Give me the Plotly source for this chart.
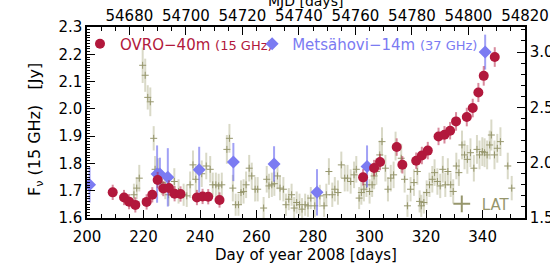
import plotly.graph_objects as go

# ---------------- data ----------------
ovro_day = [209.1, 213.1, 214.9, 217.1, 221.1, 223.1, 225.0, 227.0, 229.0, 231.0, 233.1,
            238.9, 240.9, 242.9, 246.9, 297.7, 301.6, 303.7, 309.6, 311.6, 316.5, 318.5,
            320.6, 324.4, 326.5, 328.5, 330.6, 334.4, 336.5, 338.5, 340.4, 344.3]
ovro_flux = [1.694, 1.675, 1.660, 1.648, 1.659, 1.685, 1.739, 1.708, 1.710, 1.689, 1.688,
             1.675, 1.679, 1.678, 1.666, 1.749, 1.783, 1.805, 1.860, 1.795, 1.810, 1.829,
             1.847, 1.899, 1.905, 1.920, 1.954, 1.970, 2.003, 2.060, 2.121, 2.190]
ovro_err = [0.028, 0.028, 0.028, 0.028, 0.028, 0.028, 0.030, 0.028, 0.028, 0.028, 0.028,
            0.028, 0.028, 0.028, 0.028, 0.030, 0.030, 0.030, 0.032, 0.032, 0.030, 0.032,
            0.032, 0.032, 0.032, 0.032, 0.034, 0.034, 0.034, 0.035, 0.036, 0.036]

mets_day = [200.9, 224.8, 225.8, 228.6, 239.7, 251.8, 266.2, 281.4, 299.1, 340.9]
mets_flux = [1.722, 1.761, 1.761, 1.749, 1.777, 1.805, 1.798, 1.694, 1.789, 2.208]
mets_err = [0.065, 0.105, 0.060, 0.107, 0.084, 0.070, 0.065, 0.085, 0.077, 0.064]

lat_day = [216.6, 217.6, 218.5, 219.7, 220.6, 221.5, 222.4, 223.6, 224.1, 225.1, 226.5, 227.7,
           228.9, 230.9, 232.4, 234.2, 235.3, 236.5, 237.5, 238.5, 240.6, 242.2, 243.6, 244.5,
           245.6, 246.6, 247.7, 249.5, 250.4, 251.6, 252.6, 253.6, 254.5, 255.4, 256.3, 257.4,
           258.3, 259.5, 260.4, 262.5, 263.6, 264.4, 265.4, 266.3, 267.4, 268.3, 269.5, 270.4,
           271.4, 272.4, 273.3, 274.2, 275.2, 276.1, 277.2, 278.2, 279.2, 280.6, 282.4, 283.9,
           284.7, 285.6, 286.8, 287.7, 288.8, 290.0, 291.2, 292.2, 293.3, 294.5, 295.3, 296.3,
           297.1, 298.0, 298.9, 300.0, 300.9, 301.6, 302.4, 303.6, 304.4, 305.6, 306.5, 307.5,
           308.5, 309.2, 311.2, 312.4, 313.4, 314.5, 315.7, 316.9, 317.7, 318.3, 319.2, 320.2,
           321.2, 322.2, 323.0, 324.0, 325.0, 325.9, 326.8, 327.7, 328.7, 329.6, 330.7, 331.6,
           332.7, 333.6, 334.6, 335.7, 336.9, 338.0, 338.9, 339.9, 340.7, 341.6, 342.5, 343.1,
           344.2, 345.2, 346.3, 348.9, 350.3]
lat_flux = [1.71, 1.77, 1.86, 2.88, 2.79, 2.59, 2.55, 2.22, 1.94, 1.92, 1.82, 1.79,
            1.71, 1.83, 1.74, 1.71, 1.70, 1.80, 1.98, 1.85, 1.90, 1.97, 1.94, 1.80,
            1.80, 1.79, 1.80, 2.12, 2.22, 1.77, 1.62, 1.62, 1.73, 1.74, 1.80, 1.95,
            1.88, 1.76, 1.76, 1.59, 1.85, 1.79, 1.80, 1.81, 1.88, 1.77, 1.76, 1.62,
            1.67, 1.71, 1.59, 1.64, 1.62, 1.58, 1.62, 1.61, 1.68, 1.61, 1.70, 1.61,
            1.71, 1.92, 1.71, 1.76, 1.73, 1.98, 1.86, 1.86, 1.83, 1.89, 1.94, 1.68,
            1.73, 1.76, 1.80, 1.74, 1.80, 1.88, 1.92, 2.07, 2.19, 1.95, 1.76, 1.86,
            1.89, 2.15, 2.04, 1.85, 1.61, 1.76, 1.82, 1.92, 1.65, 1.61, 1.64, 1.73,
            1.80, 1.85, 1.91, 1.83, 1.79, 1.94, 1.80, 1.92, 1.80, 1.74, 1.97, 1.91,
            2.16, 2.07, 2.03, 2.09, 1.95, 2.12, 2.07, 2.10, 2.09, 2.07, 2.16, 2.25,
            2.07, 2.13, 2.19, 1.97, 1.77]
lat_err = [0.10, 0.10, 0.12, 0.16, 0.15, 0.11, 0.13, 0.11, 0.12, 0.12, 0.11, 0.12,
           0.10, 0.12, 0.11, 0.10, 0.10, 0.12, 0.13, 0.12, 0.12, 0.12, 0.12, 0.11,
           0.11, 0.11, 0.11, 0.13, 0.13, 0.12, 0.10, 0.10, 0.11, 0.11, 0.12, 0.12,
           0.12, 0.11, 0.11, 0.10, 0.12, 0.11, 0.11, 0.11, 0.12, 0.11, 0.11, 0.10,
           0.10, 0.10, 0.10, 0.10, 0.10, 0.10, 0.10, 0.10, 0.10, 0.10, 0.10, 0.10,
           0.10, 0.12, 0.11, 0.11, 0.11, 0.12, 0.12, 0.12, 0.11, 0.12, 0.12, 0.10,
           0.11, 0.11, 0.11, 0.11, 0.11, 0.12, 0.12, 0.13, 0.13, 0.12, 0.11, 0.12,
           0.12, 0.13, 0.13, 0.12, 0.10, 0.11, 0.12, 0.12, 0.10, 0.10, 0.10, 0.11,
           0.11, 0.12, 0.12, 0.12, 0.11, 0.12, 0.11, 0.12, 0.11, 0.11, 0.12, 0.12,
           0.13, 0.13, 0.13, 0.13, 0.12, 0.13, 0.13, 0.13, 0.13, 0.13, 0.13, 0.14,
           0.13, 0.13, 0.13, 0.12, 0.11]

day_ticks = [200, 220, 240, 260, 280, 300, 320, 340]
mjd_ticks = [54680, 54700, 54720, 54740, 54760, 54780, 54800, 54820]
left_ticks = [1.6, 1.7, 1.8, 1.9, 2.0, 2.1, 2.2, 2.3]
right_ticks = [1.5, 2.0, 2.5, 3.0]

# ---------------- style ----------------
FONT = "DejaVu Sans"
RED = "#B2183C"
BLUE = "#7B7BF2"
OLIVE = "#96966C"

fig = go.Figure()

fig.add_trace(go.Scatter(
    x=lat_day, y=lat_flux, xaxis="x", yaxis="y", mode="markers", name="LAT",
    legend="legend3",
    marker=dict(symbol="cross-thin", size=5, line=dict(width=1, color=OLIVE), color=OLIVE),
    error_y=dict(type="data", array=lat_err, thickness=2, width=0, color="rgba(160,160,115,0.40)"),
))
fig.add_trace(go.Scatter(
    x=mets_day, y=mets_flux, xaxis="x", yaxis="y2", mode="markers",
    name="Metsähovi−14m <span style='font-size:13px'>(37 GHz)</span>", legend="legend2",
    marker=dict(symbol="diamond", size=10, color=BLUE),
    error_y=dict(type="data", array=mets_err, thickness=2, width=0, color="rgba(110,110,240,0.65)"),
))
fig.add_trace(go.Scatter(
    x=ovro_day, y=ovro_flux, xaxis="x", yaxis="y2", mode="markers",
    name="OVRO−40m <span style='font-size:13px'>(15 GHz)</span>", legend="legend",
    marker=dict(symbol="circle", size=10, color=RED),
    error_y=dict(type="data", array=ovro_err, thickness=2, width=0, color="rgba(178,24,60,0.5)"),
))
# empty trace so that the MJD (top) axis is instantiated
fig.add_trace(go.Scatter(x=[], y=[], xaxis="x2", yaxis="y", showlegend=False, hoverinfo="skip"))

axis_common = dict(showgrid=False, zeroline=False, showline=True, linecolor="black", linewidth=1.5,
                   ticks="inside", tickcolor="black", tickwidth=1, ticklen=8,
                   tickfont=dict(family=FONT, size=15, color="black"))

fig.update_layout(
    width=550, height=275,
    margin=dict(l=87, r=25, t=27, b=57, autoexpand=False),
    paper_bgcolor="white", plot_bgcolor="white",
    font=dict(family=FONT, size=15, color="black"),
    xaxis=dict(range=[200, 355], tickvals=day_ticks, ticktext=[str(v) for v in day_ticks],
               minor=dict(dtick=5, tick0=200, ticks="inside", ticklen=4, tickcolor="black"),
               title=dict(text="Day of year 2008 [days]", standoff=3, font=dict(size=15)),
               ticklabelstandoff=4, anchor="y", side="bottom", **axis_common),
    xaxis2=dict(range=[54665, 54820], tickvals=mjd_ticks, ticktext=[str(v) for v in mjd_ticks],
                minor=dict(dtick=5, tick0=54665, ticks="inside", ticklen=4, tickcolor="black"),
                ticklabelstandoff=-2,
                overlaying="x", side="top", anchor="y", **axis_common),
    yaxis=dict(range=[1.5, 3.226], tickvals=right_ticks, ticktext=["1.5", "2.0", "2.5", "3.0"],
               minor=dict(dtick=0.1, tick0=1.5, ticks="inside", ticklen=4, tickcolor="black"),
               side="right", anchor="x", **axis_common),
    yaxis2=dict(range=[1.6, 2.3], tickvals=left_ticks, ticktext=[f"{v:.1f}" for v in left_ticks],
                minor=dict(dtick=0.01, tick0=1.6, ticks="inside", ticklen=3, tickcolor="black"),
                side="left", overlaying="y", anchor="x", **axis_common),
    legend=dict(x=-0.016, y=0.911, xanchor="left", yanchor="middle", bgcolor="rgba(0,0,0,0)",
                font=dict(family=FONT, size=15, color=RED)),
    legend2=dict(x=0.377, y=0.911, xanchor="left", yanchor="middle", bgcolor="rgba(0,0,0,0)",
                 font=dict(family=FONT, size=15, color=BLUE)),
    legend3=dict(x=0.81, y=0.073, xanchor="left", yanchor="middle", bgcolor="rgba(0,0,0,0)",
                 itemsizing="constant", font=dict(family=FONT, size=15, color=OLIVE)),
    showlegend=True,
    annotations=[
        # left axis title
        dict(text="F<sub>ν</sub> (15 GHz)\u00a0\u00a0\u00a0[Jy]", textangle=-90,
             xref="paper", yref="paper", x=-0.119, y=0.465, xanchor="center", yanchor="middle",
             showarrow=False, font=dict(family=FONT, size=16, color="black")),
        # top axis title (partly cut by the top edge, as in the original)
        dict(text="MJD [days]", xref="paper", yref="paper", x=0.498, y=1.137,
             xanchor="center", yanchor="middle", showarrow=False,
             font=dict(family=FONT, size=14, color="black")),
    ],
)

fig.write_html("out.html", config={"displayModeBar": False},
               post_script="document.body.style.margin='0px';")
